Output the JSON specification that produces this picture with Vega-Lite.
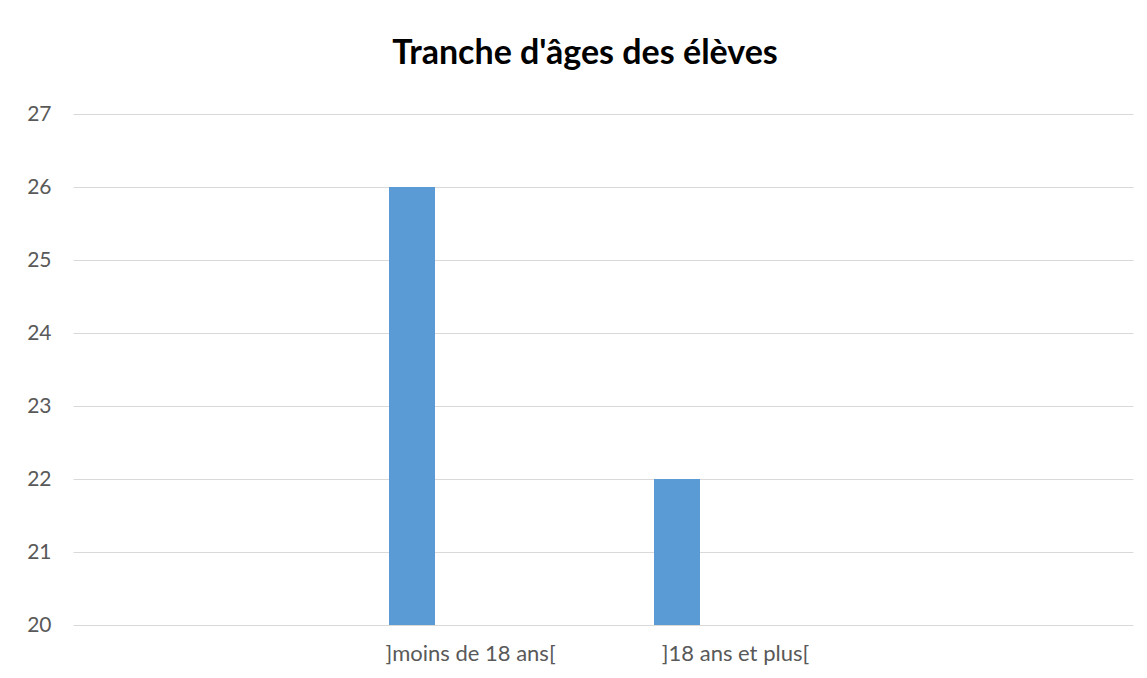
{
  "$schema": "https://vega.github.io/schema/vega-lite/v6.json",
  "width": 1060,
  "height": 511,
  "padding": {"left": 26, "top": 37, "right": 14, "bottom": 10},
  "background": "white",
  "title": {
    "text": "Tranche d'âges des élèves",
    "font": "Lato",
    "fontSize": 34,
    "fontWeight": "bold",
    "color": "#000000",
    "anchor": "middle",
    "baseline": "alphabetic",
    "offset": 5,
    "dx": -18
  },
  "data": {
    "values": [
      {"tranche": "]moins de 18 ans[", "effectif": 26},
      {"tranche": "]18 ans et plus[", "effectif": 22}
    ]
  },
  "mark": {"type": "bar", "color": "#5b9bd5", "width": 46, "xOffset": -58.5},
  "encoding": {
    "x": {
      "field": "tranche",
      "type": "nominal",
      "sort": null,
      "scale": {"domain": ["", "]moins de 18 ans[", "]18 ans et plus[", " "], "paddingInner": 0, "paddingOuter": 0},
      "axis": {
        "title": null,
        "labelAngle": 0,
        "domain": false,
        "ticks": false,
        "grid": false,
        "labelFont": "Lato",
        "labelFontSize": 22,
        "labelColor": "#595959",
        "labelPadding": 18
      }
    },
    "y": {
      "field": "effectif",
      "type": "quantitative",
      "scale": {"domain": [20, 27], "zero": false, "nice": false},
      "axis": {
        "title": null,
        "values": [20, 21, 22, 23, 24, 25, 26, 27],
        "domain": false,
        "ticks": false,
        "grid": true,
        "gridColor": "#d9d9d9",
        "gridWidth": 1.2,
        "labelFont": "Lato",
        "labelFontSize": 21,
        "labelColor": "#595959",
        "labelPadding": 22
      }
    },
    "y2": {"datum": 20}
  },
  "config": {"view": {"stroke": null}}
}
